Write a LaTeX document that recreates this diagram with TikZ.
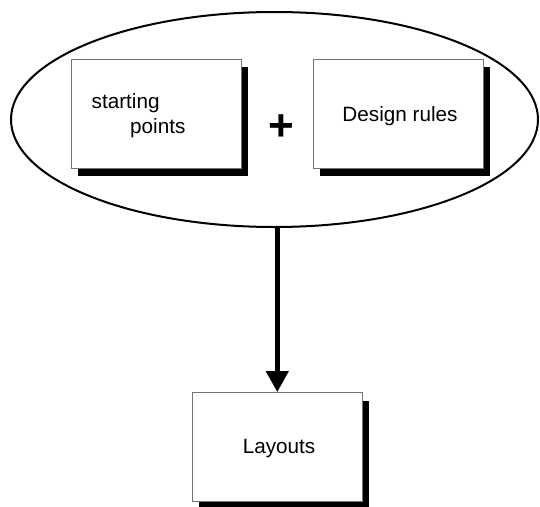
\documentclass[tikz,border=0pt]{standalone}
\usepackage{fontspec}
\setmainfont{Liberation Sans}
\usetikzlibrary{shapes.geometric,shadows,arrows.meta}
\tikzset{
  card/.style={draw=black!55, line width=0.9pt, fill=white,
    minimum width=170pt, minimum height=109pt, inner sep=0pt,
    drop shadow={shadow xshift=7pt, shadow yshift=-8pt, fill=black, opacity=1}},
  cardtext/.style={inner sep=0pt, font=\fontsize{20.7}{25}\selectfont, anchor=base},
  group/.style={ellipse, draw=black, line width=2pt, inner sep=0pt,
    minimum width=527pt, minimum height=215pt},
  flow/.style={line width=4.5pt, -{Triangle[width=22pt,length=21pt]}}
}
\begin{document}
\begin{tikzpicture}[x=1pt,y=-1pt]
\useasboundingbox (0,0) rectangle (540,506);

% enclosing ellipse around the two inputs
\node[group] (inputs) at (274.5,119.5) {};

% input boxes
\node[card] (start) at (156,113.5) {};
\node[card] (rules) at (398,113.5) {};
\node[cardtext, anchor=base west] (startA) at (91.5,108) {starting};
\node[cardtext, anchor=base west] (startB) at (130,133) {points};
\node[cardtext] (rulesT) at (400,121) {Design rules};

% combining sign
\node[inner sep=0pt, anchor=base, font=\fontsize{44}{44}\selectfont\bfseries] (plus) at (281,140.5) {+};

% result box
\node[card] (layouts) at (277.3,447) {};
\node[cardtext] (layoutsT) at (279,453) {Layouts};

% derivation arrow
\draw[flow] (layouts.north |- inputs.south) -- (layouts.north);
\end{tikzpicture}
\end{document}
